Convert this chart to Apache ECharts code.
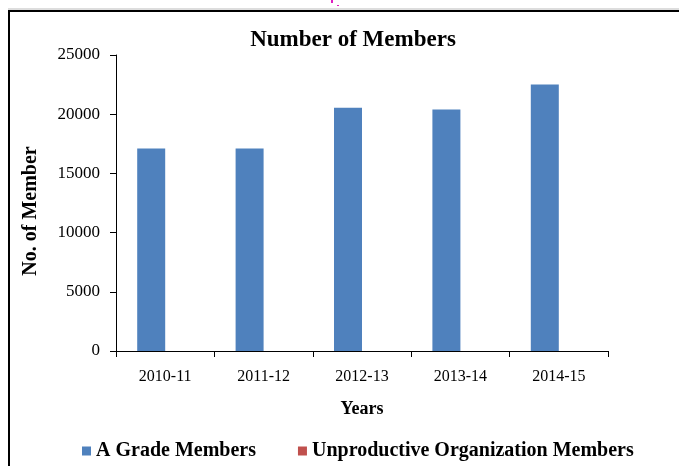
<!DOCTYPE html>
<html>
<head>
<meta charset="utf-8">
<script src="https://cdn.jsdelivr.net/npm/echarts@6/dist/echarts.min.js"></script>
<style>
  html, body { margin: 0; padding: 0; background: #fff; }
  #chart { width: 679px; height: 466px; }
</style>
</head>
<body>
<div id="chart"></div>
<script>
const years = ['2010-11', '2011-12', '2012-13', '2013-14', '2014-15']
const aGrade = [17100, 17100, 20550, 20400, 22500]
const unproductive = [0, 0, 0, 0, 0]
const yTicks = [0, 5000, 10000, 15000, 20000, 25000]

const serif = '"Liberation Serif", "DejaVu Serif", serif'
const chart = echarts.init(document.getElementById('chart'))

chart.setOption({
  backgroundColor: '#fff',
  animation: false,
  title: {
    text: 'Number of Members',
    left: 348,
    top: 24,
    textAlign: 'center',
    textStyle: { fontFamily: serif, fontWeight: 'bold', fontSize: 23, color: '#000' }
  },
  legend: {
    left: 82,
    top: 441,
    padding: 0,
    itemWidth: 9,
    itemHeight: 9,
    itemGap: 42,
    icon: 'rect',
    textStyle: { fontFamily: serif, fontWeight: 'bold', fontSize: 20, color: '#000' },
    data: ['A Grade Members', 'Unproductive Organization Members']
  },
  grid: { left: 116, right: 71, top: 55, bottom: 115 },
  xAxis: {
    type: 'category',
    data: years,
    name: 'Years',
    nameLocation: 'middle',
    nameGap: 49,
    nameTextStyle: { fontFamily: serif, fontWeight: 'bold', fontSize: 18, color: '#000' },
    axisLine: { lineStyle: { color: '#000', width: 1 } },
    axisTick: { show: true, length: 6, inside: false, lineStyle: { color: '#000' } },
    axisLabel: { fontFamily: serif, fontSize: 16, color: '#000', margin: 18 }
  },
  yAxis: {
    type: 'value',
    min: yTicks[0],
    max: yTicks[yTicks.length - 1],
    interval: yTicks[1] - yTicks[0],
    axisLine: { show: true, lineStyle: { color: '#000', width: 1 } },
    axisTick: { show: true, length: 6, lineStyle: { color: '#000' } },
    splitLine: { show: false },
    axisLabel: {
      fontFamily: serif, fontSize: 17, color: '#000', margin: 16,
      formatter: (v) => String(v)
    }
  },
  graphic: [
    { type: 'rect', shape: { x: 8, y: 8.5, width: 671, height: 1 }, style: { fill: '#bbb' }, silent: true },
    { type: 'rect', shape: { x: 8, y: 10, width: 671, height: 2 }, style: { fill: '#000' }, silent: true },
    { type: 'rect', shape: { x: 8, y: 10, width: 2, height: 456 }, style: { fill: '#000' }, silent: true },
    { type: 'rect', shape: { x: 331, y: 0, width: 2, height: 3 }, style: { fill: '#e020c0' }, silent: true },
    { type: 'rect', shape: { x: 337, y: 5, width: 2, height: 1 }, style: { fill: '#e020c0' }, silent: true },
    {
      type: 'text',
      x: 31,
      y: 211,
      rotation: Math.PI / 2,
      style: {
        text: 'No. of Member',
        fontFamily: serif,
        fontWeight: 'bold',
        fontSize: 20,
        fill: '#000',
        textAlign: 'center',
        textVerticalAlign: 'middle'
      }
    }
  ],
  series: [
    {
      name: 'A Grade Members',
      type: 'bar',
      data: aGrade,
      barWidth: 28,
      barGap: '0%',
      itemStyle: { color: '#4F81BD' }
    },
    {
      name: 'Unproductive Organization Members',
      type: 'bar',
      data: unproductive,
      barWidth: 28,
      itemStyle: { color: '#C0504D' }
    }
  ]
})
</script>
</body>
</html>
